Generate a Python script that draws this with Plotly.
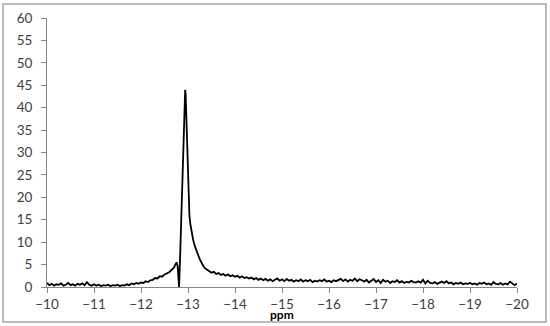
import plotly.graph_objects as go

# left baseline, -10 .. -12.76 ppm
ppm_low = [-10.00, -10.05, -10.10, -10.15, -10.20, -10.25, -10.30, -10.35, -10.40, -10.45,
           -10.50, -10.55, -10.60, -10.65, -10.70, -10.75, -10.80, -10.85, -10.90, -10.95,
           -11.00, -11.05, -11.10, -11.15, -11.20, -11.25, -11.30, -11.35, -11.40, -11.45,
           -11.50, -11.55, -11.60, -11.65, -11.70, -11.75, -11.80, -11.85, -11.90, -11.95,
           -12.00, -12.05, -12.10, -12.15, -12.20, -12.25, -12.30, -12.35, -12.40, -12.45,
           -12.50, -12.55, -12.60, -12.65, -12.70, -12.73, -12.76]
int_low = [0.9, 0.4, 0.7, 0.3, 0.6, 0.5, 0.8, 0.3, 0.5, 0.9,
           0.4, 0.6, 0.3, 0.7, 0.5, 0.8, 0.4, 1.1, 0.5, 0.3,
           0.6, 0.3, 0.5, 0.2, 0.4, 0.3, 0.5, 0.2, 0.4, 0.3,
           0.5, 0.2, 0.4, 0.3, 0.6, 0.4, 0.8, 0.6, 0.9, 0.7,
           1.0, 0.9, 1.3, 1.1, 1.5, 1.6, 2.0, 1.9, 2.4, 2.3,
           2.8, 3.0, 3.3, 3.8, 4.3, 5.0, 5.5]

# peak region
ppm_peak = [-12.78, -12.80, -12.81, -12.83, -12.85, -12.87, -12.89, -12.91, -12.93, -12.94,
            -12.95, -12.97, -12.99, -13.01, -13.03, -13.05, -13.08, -13.11, -13.15, -13.20,
            -13.25, -13.30, -13.35, -13.40, -13.45, -13.50]
int_peak = [4.6, 2.0, 0.0, 6.0, 14.0, 22.0, 30.0, 38.0, 43.5, 44.0,
            43.0, 36.0, 26.0, 20.0, 16.0, 14.0, 12.0, 10.5, 9.0, 7.5,
            6.2, 5.2, 4.3, 3.9, 3.6, 3.2]

# right baseline, -13.55 .. -20 ppm
ppm_high = [-13.55, -13.60, -13.65, -13.70, -13.75, -13.80, -13.85, -13.90, -13.95, -14.00,
            -14.05, -14.10, -14.15, -14.20, -14.25, -14.30, -14.35, -14.40, -14.45, -14.50,
            -14.55, -14.60, -14.65, -14.70, -14.75, -14.80, -14.85, -14.90, -14.95, -15.00,
            -15.05, -15.10, -15.15, -15.20, -15.25, -15.30, -15.35, -15.40, -15.45, -15.50,
            -15.55, -15.60, -15.65, -15.70, -15.75, -15.80, -15.85, -15.90, -15.95, -16.00,
            -16.05, -16.10, -16.15, -16.20, -16.25, -16.30, -16.35, -16.40, -16.45, -16.50,
            -16.55, -16.60, -16.65, -16.70, -16.75, -16.80, -16.85, -16.90, -16.95, -17.00,
            -17.05, -17.10, -17.15, -17.20, -17.25, -17.30, -17.35, -17.40, -17.45, -17.50,
            -17.55, -17.60, -17.65, -17.70, -17.75, -17.80, -17.85, -17.90, -17.95, -18.00,
            -18.05, -18.10, -18.15, -18.20, -18.25, -18.30, -18.35, -18.40, -18.45, -18.50,
            -18.55, -18.60, -18.65, -18.70, -18.75, -18.80, -18.85, -18.90, -18.95, -19.00,
            -19.05, -19.10, -19.15, -19.20, -19.25, -19.30, -19.35, -19.40, -19.45, -19.50,
            -19.55, -19.60, -19.65, -19.70, -19.75, -19.80, -19.85, -19.90, -19.95, -20.00]
int_high = [3.4, 2.9, 3.1, 2.7, 2.9, 2.5, 2.8, 2.4, 2.6, 2.3,
            2.5, 2.1, 2.4, 2.0, 2.2, 1.9, 2.1, 1.7, 2.0, 1.6,
            1.9, 1.5, 1.8, 1.4, 1.7, 1.3, 1.6, 1.9, 1.4, 1.7,
            1.3, 1.8, 1.4, 1.6, 1.2, 1.5, 1.3, 1.7, 1.2, 1.5,
            1.3, 1.6, 1.1, 1.4, 1.2, 1.5, 1.3, 1.7, 1.2, 1.4,
            1.1, 1.5, 1.3, 1.6, 1.8, 1.3, 1.7, 1.2, 1.6, 1.4,
            1.9, 1.3, 1.7, 1.5, 1.2, 1.6, 1.0, 1.4, 1.8, 1.1,
            1.5, 0.9, 1.6, 1.2, 1.4, 0.9, 1.3, 1.1, 1.5, 1.0,
            1.3, 0.9, 1.2, 1.0, 1.4, 1.1, 1.0, 1.3, 1.0, 1.6,
            0.8, 1.4, 0.9, 0.8, 1.1, 0.7, 1.0, 1.2, 0.9, 1.3,
            0.8, 1.0, 0.6, 0.9, 0.7, 1.0, 0.6, 0.8, 0.7, 0.9,
            0.6, 0.8, 0.5, 0.9, 0.7, 1.0, 0.6, 0.8, 0.5, 1.1,
            0.7, 0.6, 0.9, 0.5, 0.8, 0.6, 1.2, 0.7, 0.4, 0.8]

ppm = ppm_low + ppm_peak + ppm_high
intensity = int_low + int_peak + int_high

axis_gray = '#868686'
text_color = '#404040'
font_family = "Lato, 'Open Sans', sans-serif"

fig = go.Figure([
    go.Scatter(
        x=ppm,
        y=intensity,
        mode='lines',
        line=dict(color='black', width=1.8),
        showlegend=False,
    )
])

fig.update_layout(
    width=550,
    height=326,
    margin=dict(l=47, r=33, t=18, b=39),
    plot_bgcolor='white',
    paper_bgcolor='white',
    font=dict(family=font_family, size=13.5, color=text_color),
    xaxis=dict(
        range=[-10, -20],
        dtick=1,
        automargin=False,
        showgrid=False,
        zeroline=False,
        showline=True,
        linecolor=axis_gray,
        linewidth=1,
        ticks='outside',
        ticklen=5,
        tickcolor=axis_gray,
    ),
    yaxis=dict(
        range=[0, 60],
        dtick=5,
        automargin=False,
        showgrid=False,
        zeroline=False,
        showline=True,
        linecolor=axis_gray,
        linewidth=1,
        ticks='outside',
        ticklen=5,
        tickcolor=axis_gray,
        ticklabelstandoff=6,
    ),
    # axis title placed by hand, just under the tick labels
    annotations=[dict(
        text='<b>ppm</b>', xref='paper', yref='paper',
        x=0.5, y=-0.103, xanchor='center', yanchor='middle',
        showarrow=False, font=dict(size=12, color='black'),
    )],
    shapes=[dict(
        type='rect', xref='paper', yref='paper', layer='above',
        x0=-0.0936, x1=1.0617, y0=-0.130, y1=1.052,
        line=dict(color='#a6a6a6', width=1.5),
    )],
)

# drop the browser's default body margin so the figure sits at the page corner
fig.write_html("out.html", config=dict(displayModeBar=False),
               post_script="document.body.style.margin='0';")
